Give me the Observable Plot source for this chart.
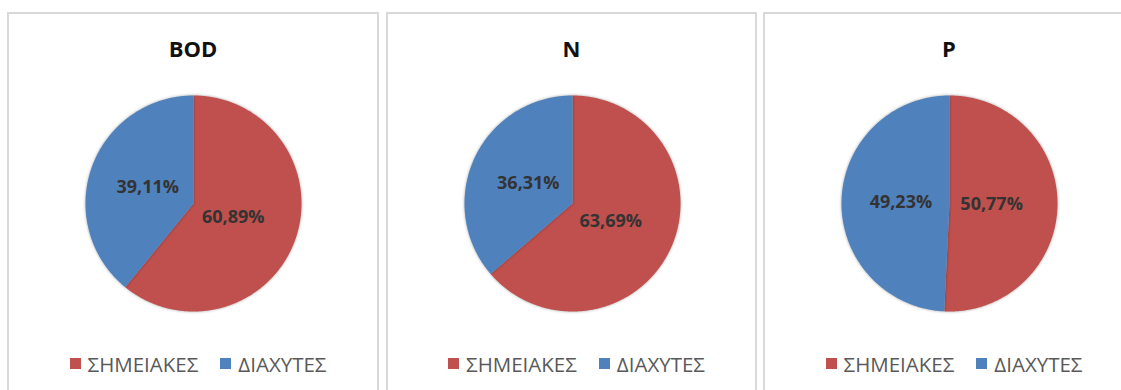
<!DOCTYPE html>
<html>
<head>
<meta charset="utf-8">
<script src="https://cdn.jsdelivr.net/npm/d3@7"></script>
<script src="https://cdn.jsdelivr.net/npm/@observablehq/plot@0.6"></script>
<style>
  html, body { margin: 0; padding: 0; background: #fff; width: 1121px; height: 390px; overflow: hidden; }
  .panel { position: absolute; top: 12px; height: 400px; box-sizing: border-box; border: 2px solid #d9d9d9; background: #fff; }
  .title { position: absolute; left: 0; right: 0; top: 20px; line-height: 28px; text-align: center;
           font-family: "Open Sans", sans-serif; font-weight: 700; font-size: 22px; color: #111; }
  .pie { position: absolute; left: 72px; top: 77px; }
  .pie svg { overflow: visible; }
  .legend { position: absolute; left: 0; right: 0; top: 335px; line-height: 24px; text-align: center; padding-left: 10px;
            font-family: "Open Sans", sans-serif; font-size: 20.5px; color: #595959; white-space: nowrap; }
  .legend .item { display: inline-flex; align-items: center; margin: 0 11px; }
  .legend .sw { display: inline-block; width: 11px; height: 11px; margin-right: 7px; }
</style>
</head>
<body>
<script>
// ---- data ----
const panelTitles = ["BOD", "N", "P"];
const categories = ["ΣΗΜΕΙΑΚΕΣ", "ΔΙΑΧΥΤΕΣ"];
const pointShares = [60.89, 63.69, 50.77];   // ΣΗΜΕΙΑΚΕΣ (%)
const diffuseShares = [39.11, 36.31, 49.23]; // ΔΙΑΧΥΤΕΣ (%)
const colors = ["#C0504D", "#4F81BD"];

// ---- layout of panels ----
const panelLefts = [7, 386, 763];
const panelWidths = [372, 371, 372];

const fmt = v => v.toFixed(2).replace(".", ",") + "%";

panelTitles.forEach((title, p) => {
  const panel = document.createElement("div");
  panel.className = "panel";
  panel.style.left = panelLefts[p] + "px";
  panel.style.width = panelWidths[p] + "px";
  document.body.appendChild(panel);

  const t = document.createElement("div");
  t.className = "title";
  t.textContent = title;
  panel.appendChild(t);

  const values = [pointShares[p], diffuseShares[p]];
  const total = d3.sum(values);
  let cum = 0;
  const marks = [];
  const labels = [];
  values.forEach((v, i) => {
    const a0 = cum / total * 2 * Math.PI;
    cum += v;
    const a1 = cum / total * 2 * Math.PI;
    const n = Math.max(2, Math.ceil((a1 - a0) / (Math.PI / 360)));
    const pts = [{x: 0, y: 0}];
    for (let k = 0; k <= n; k++) {
      const a = a0 + (a1 - a0) * k / n;
      pts.push({x: Math.sin(a), y: Math.cos(a)});
    }
    pts.push({x: 0, y: 0});
    marks.push(Plot.line(pts, {x: "x", y: "y", fill: colors[i], stroke: "none", curve: "linear"}));
    const mid = (a0 + a1) / 2;
    const lr = i === 0 ? 0.39 : 0.45;
    labels.push({x: lr * Math.sin(mid), y: lr * Math.cos(mid), text: fmt(v)});
  });

  const plot = Plot.plot({
    width: 224,
    height: 224,
    margin: 4,
    x: {domain: [-1, 1], axis: null},
    y: {domain: [-1, 1], axis: null},
    marks: [
      ...marks,
      Plot.text(labels, {x: "x", y: "y", text: "text", fill: "#333333",
        fontSize: 18, fontWeight: 700, fontFamily: "Open Sans"})
    ]
  });
  d3.select(plot).selectAll('g[aria-label="line"]')
    .style("filter", "drop-shadow(0px 0px 1.5px rgba(0,0,0,0.35))");
  const holder = document.createElement("div");
  holder.className = "pie";
  holder.appendChild(plot);
  panel.appendChild(holder);

  const legend = document.createElement("div");
  legend.className = "legend";
  categories.forEach((c, i) => {
    const item = document.createElement("span");
    item.className = "item";
    const sw = document.createElement("span");
    sw.className = "sw";
    sw.style.background = colors[i];
    item.appendChild(sw);
    item.appendChild(document.createTextNode(c));
    legend.appendChild(item);
  });
  panel.appendChild(legend);
});
</script>
</body>
</html>
